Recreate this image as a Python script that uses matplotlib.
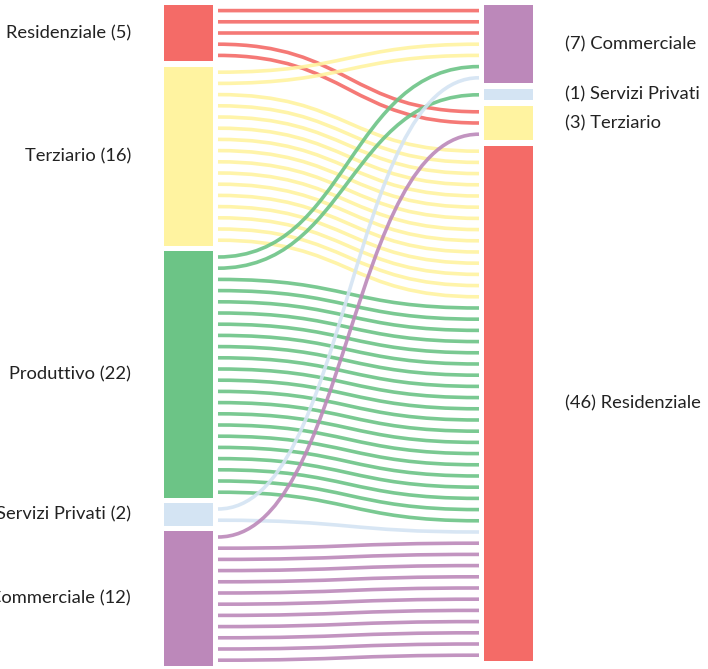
import matplotlib
matplotlib.use("Agg")
import matplotlib.pyplot as plt
from matplotlib.path import Path
from matplotlib.patches import PathPatch, Rectangle

# ---- data ----
source_nodes = ["Residenziale", "Terziario", "Produttivo", "Servizi Privati", "Commerciale"]
target_nodes = ["Commerciale", "Servizi Privati", "Terziario", "Residenziale"]
# counts from each source to targets (order = target_nodes)
from_residenziale = [3, 0, 2, 0]
from_terziario = [2, 0, 0, 14]
from_produttivo = [1, 1, 0, 20]
from_servizi_privati = [1, 0, 0, 1]
from_commerciale = [0, 0, 1, 11]
flows = [from_residenziale, from_terziario, from_produttivo, from_servizi_privati, from_commerciale]

colors = {
    "Residenziale": "#F46B67",
    "Terziario": "#FFF3A0",
    "Produttivo": "#6CC486",
    "Servizi Privati": "#D4E4F3",
    "Commerciale": "#BC88BA",
}

# ---- layout ----
W, H = 708, 669
fig = plt.figure(figsize=(W / 100, H / 100), dpi=100)
ax = fig.add_axes([0, 0, 1, 1])
ax.set_xlim(0, W)
ax.set_ylim(H, 0)
ax.axis("off")

unit = 11.2
gap_l = 5.6
gap_r = 5.8
top = 5
lx0, lx1 = 164, 213
rx0, rx1 = 484, 533
line_x0, line_x1 = 218, 479
font = "Lato"
fs = 13.2

src_tot = [sum(f) for f in flows]
tgt_tot = [sum(f[j] for f in flows) for j in range(len(target_nodes))]

# node positions
src_y = []
y = top
for t in src_tot:
    src_y.append(y)
    y += t * unit + gap_l
tgt_y = []
y = top
for t in tgt_tot:
    tgt_y.append(y)
    y += t * unit + gap_r

for i, name in enumerate(source_nodes):
    h = src_tot[i] * unit
    ax.add_patch(Rectangle((lx0, src_y[i]), lx1 - lx0, h, facecolor=colors[name], edgecolor="none"))
    ax.text(131, src_y[i] + h / 2, f"{name} ({src_tot[i]})", ha="right", va="center",
            fontsize=fs, family=font, color="#222222")
for j, name in enumerate(target_nodes):
    h = tgt_tot[j] * unit
    ax.add_patch(Rectangle((rx0, tgt_y[j]), rx1 - rx0, h, facecolor=colors[name], edgecolor="none"))
    ax.text(565, tgt_y[j] + h / 2, f"({tgt_tot[j]}) {name}", ha="left", va="center",
            fontsize=fs, family=font, color="#222222")

# unit lines
src_slot = [0] * len(source_nodes)
tgt_slot = [0] * len(target_nodes)
for i, name in enumerate(source_nodes):
    for j in range(len(target_nodes)):
        for k in range(flows[i][j]):
            y0 = src_y[i] + (src_slot[i] + 0.5) * unit
            y1 = tgt_y[j] + (tgt_slot[j] + 0.5) * unit
            src_slot[i] += 1
            tgt_slot[j] += 1
            xm = (line_x0 + line_x1) / 2
            p = Path([(line_x0, y0), (xm, y0), (xm, y1), (line_x1, y1)],
                     [Path.MOVETO, Path.CURVE4, Path.CURVE4, Path.CURVE4])
            ax.add_patch(PathPatch(p, facecolor="none", edgecolor=colors[name], lw=2.6,
                                   alpha=0.9, capstyle="butt"))

fig.savefig("out.png", dpi=100)
